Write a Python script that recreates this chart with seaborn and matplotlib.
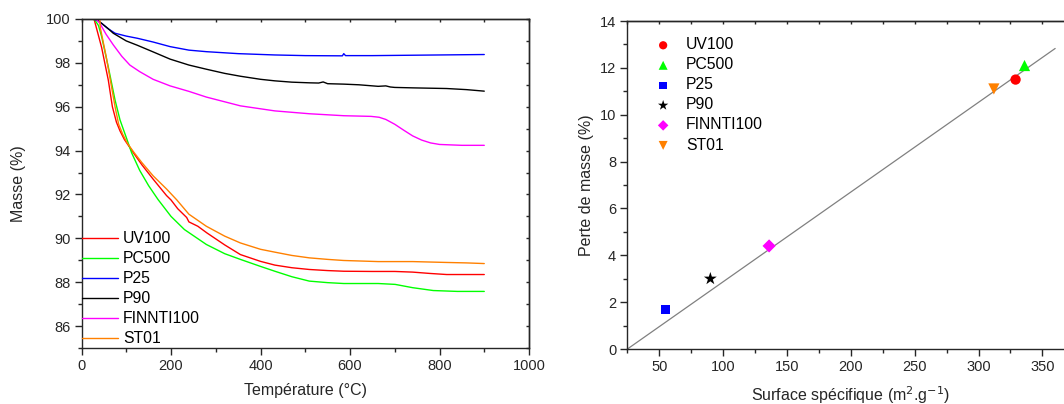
import numpy as np
import pandas as pd
import matplotlib
matplotlib.use("Agg")
import matplotlib.pyplot as plt
from matplotlib.ticker import MultipleLocator
import seaborn as sns

# ---------------- data ----------------
series_names = ["UV100", "PC500", "P25", "P90", "FINNTI100", "ST01"]
series_colors = ["#ff0000", "#00ff00", "#0000ff", "#000000", "#ff00ff", "#ff8000"]
series_markers = ["o", "^", "s", "*", "D", "v"]
marker_sizes = [55, 65, 45, 95, 45, 65]

uv100_T = [25, 28, 45, 60, 69, 78, 86, 96, 106, 116, 135, 160, 190, 200, 215, 235, 240, 260, 280, 320, 355, 400, 432, 470, 509, 550, 586, 650, 700, 740, 778, 816, 860, 900]
uv100_m = [100, 100, 98.7, 97.2, 96.0, 95.3, 94.9, 94.5, 94.2, 93.9, 93.35, 92.7, 91.95, 91.75, 91.35, 90.95, 90.75, 90.55, 90.25, 89.7, 89.26, 88.95, 88.78, 88.66, 88.58, 88.53, 88.50, 88.49, 88.49, 88.46, 88.40, 88.35, 88.35, 88.35]

pc500_T = [25, 30, 38, 45, 60, 75, 86, 100, 112, 130, 150, 171, 200, 230, 279, 320, 355, 400, 432, 470, 509, 550, 586, 663, 701, 740, 786, 840, 900]
pc500_m = [100, 99.95, 99.7, 99.2, 97.8, 96.3, 95.4, 94.6, 93.9, 93.1, 92.4, 91.77, 91.0, 90.4, 89.72, 89.3, 89.04, 88.72, 88.50, 88.25, 88.05, 87.98, 87.94, 87.94, 87.90, 87.75, 87.62, 87.58, 87.58]

p25_T = [25, 35, 45, 60, 75, 100, 125, 160, 198, 240, 279, 350, 432, 500, 583, 586, 590, 650, 750, 850, 900]
p25_m = [100, 99.95, 99.8, 99.55, 99.35, 99.22, 99.12, 98.95, 98.74, 98.58, 98.51, 98.42, 98.36, 98.33, 98.32, 98.42, 98.33, 98.33, 98.35, 98.37, 98.38]

p90_T = [25, 35, 45, 60, 71, 100, 125, 160, 198, 240, 279, 320, 355, 400, 432, 470, 509, 530, 540, 550, 586, 620, 663, 680, 690, 700, 740, 816, 860, 900]
p90_m = [100, 99.95, 99.8, 99.55, 99.35, 99.0, 98.8, 98.5, 98.17, 97.9, 97.71, 97.52, 97.39, 97.25, 97.18, 97.12, 97.09, 97.08, 97.13, 97.05, 97.03, 97.0, 96.93, 96.95, 96.90, 96.88, 96.86, 96.83, 96.78, 96.71]

finnti_T = [25, 35, 41, 55, 71, 90, 108, 130, 160, 198, 240, 279, 355, 432, 509, 586, 647, 665, 680, 700, 720, 740, 760, 780, 800, 850, 900]
finnti_m = [100, 99.95, 99.8, 99.3, 98.82, 98.3, 97.9, 97.6, 97.25, 96.95, 96.7, 96.44, 96.04, 95.81, 95.68, 95.59, 95.56, 95.52, 95.42, 95.2, 94.93, 94.67, 94.48, 94.35, 94.28, 94.24, 94.24]

st01_T = [25, 38, 41, 42, 55, 75, 83, 92, 102, 116, 135, 160, 190, 213, 240, 279, 320, 355, 400, 432, 470, 509, 550, 586, 663, 740, 816, 860, 900]
st01_m = [100, 100, 100, 99.6, 98.3, 96.0, 95.2, 94.75, 94.35, 93.95, 93.45, 92.85, 92.25, 91.75, 91.1, 90.55, 90.1, 89.79, 89.5, 89.37, 89.22, 89.11, 89.04, 88.99, 88.94, 88.94, 88.90, 88.88, 88.85]

# right panel
surface = [329, 336, 55, 90, 136, 312]
perte = [11.5, 12.1, 1.7, 3.0, 4.4, 11.1]
fit_slope = 0.0383
fit_intercept = -0.96
fit_range = [25, 360]

# ---------------- style ----------------
sns.set_style("ticks")
plt.rcParams["font.family"] = ["Liberation Sans", "DejaVu Sans"]
plt.rcParams["axes.linewidth"] = 1.0
plt.rcParams["text.color"] = "#000000"

fig = plt.figure(figsize=(10.64, 4.04), dpi=100)
axL = fig.add_axes([0.0766, 0.1386, 0.4206, 0.8144])
axR = fig.add_axes([0.5896, 0.1361, 0.4201, 0.8119])

TICK_FS = 10.5
LABEL_FS = 11.5
LEG_FS = 11.3

# ---------------- left panel ----------------
curves_T = [uv100_T, pc500_T, p25_T, p90_T, finnti_T, st01_T]
curves_m = [uv100_m, pc500_m, p25_m, p90_m, finnti_m, st01_m]
frames = []
for name, T, m in zip(series_names, curves_T, curves_m):
    frames.append(pd.DataFrame({"T": T, "m": m, "s": name}))
df_left = pd.concat(frames, ignore_index=True)

sns.lineplot(data=df_left, x="T", y="m", hue="s", hue_order=series_names,
             palette=series_colors, sort=False, estimator=None, units="s",
             linewidth=1.0, ax=axL, legend=True)

axL.set_xlim(0, 1000)
axL.set_ylim(85, 100)
axL.xaxis.set_major_locator(MultipleLocator(200))
axL.xaxis.set_minor_locator(MultipleLocator(100))
axL.yaxis.set_major_locator(MultipleLocator(2))
axL.yaxis.set_minor_locator(MultipleLocator(1))
axL.tick_params(which="major", direction="out", length=5, width=1, labelsize=TICK_FS, pad=3)
axL.tick_params(which="minor", direction="out", length=3, width=1)
axL.set_xlabel("Température (°C)", fontsize=LABEL_FS, labelpad=7)
axL.set_ylabel("Masse (%)", fontsize=LABEL_FS, labelpad=14)
for sp in axL.spines.values():
    sp.set_visible(True)
    sp.set_linewidth(1.0)
secx = axL.secondary_xaxis("top")
secx.xaxis.set_major_locator(MultipleLocator(100))
secx.tick_params(direction="in", length=2.5, width=1, labeltop=False)
secy = axL.secondary_yaxis("right")
secy.yaxis.set_major_locator(MultipleLocator(1))
secy.tick_params(direction="in", length=2.5, width=1, labelright=False)

leg = axL.legend(loc="lower left", bbox_to_anchor=(0.0, 0.005), frameon=False,
                 fontsize=LEG_FS, handlelength=2.3, handletextpad=0.35,
                 labelspacing=0.32, borderaxespad=0.0, borderpad=0.0)
for line in leg.get_lines():
    line.set_linewidth(1.0)

# ---------------- right panel ----------------
fit_x = np.array(fit_range, dtype=float)
df_fit = pd.DataFrame({"x": fit_x, "y": fit_slope * fit_x + fit_intercept})
sns.lineplot(data=df_fit, x="x", y="y", color="#808080", linewidth=0.9, ax=axR, legend=False)

for name, sx, py, col, mk, ms in zip(series_names, surface, perte, series_colors,
                                      series_markers, marker_sizes):
    sns.scatterplot(x=[sx], y=[py], color=col, marker=mk, s=ms, edgecolor="none",
                    label=name, ax=axR, zorder=3)

axR.set_xlim(25, 375)
axR.set_ylim(0, 14)
axR.xaxis.set_major_locator(MultipleLocator(50))
axR.xaxis.set_minor_locator(MultipleLocator(25))
axR.yaxis.set_major_locator(MultipleLocator(2))
axR.yaxis.set_minor_locator(MultipleLocator(1))
axR.tick_params(which="major", direction="out", length=5, width=1, labelsize=TICK_FS, pad=3)
axR.tick_params(which="minor", direction="out", length=3, width=1)
axR.set_xlabel("Surface spécifique (m$^{2}$.g$^{-1}$)", fontsize=LABEL_FS, labelpad=7)
axR.set_ylabel("Perte de masse (%)", fontsize=LABEL_FS, labelpad=4)
for sp in axR.spines.values():
    sp.set_visible(True)
    sp.set_linewidth(1.0)
secx2 = axR.secondary_xaxis("top")
secx2.xaxis.set_major_locator(MultipleLocator(25))
secx2.tick_params(direction="in", length=2.5, width=1, labeltop=False)

legR = axR.legend(loc="upper left", bbox_to_anchor=(0.045, 0.95), frameon=False,
                  fontsize=LEG_FS, handletextpad=0.45, labelspacing=0.32,
                  borderaxespad=0.0, borderpad=0.0, markerscale=0.8)

fig.savefig("out.png", dpi=100)
